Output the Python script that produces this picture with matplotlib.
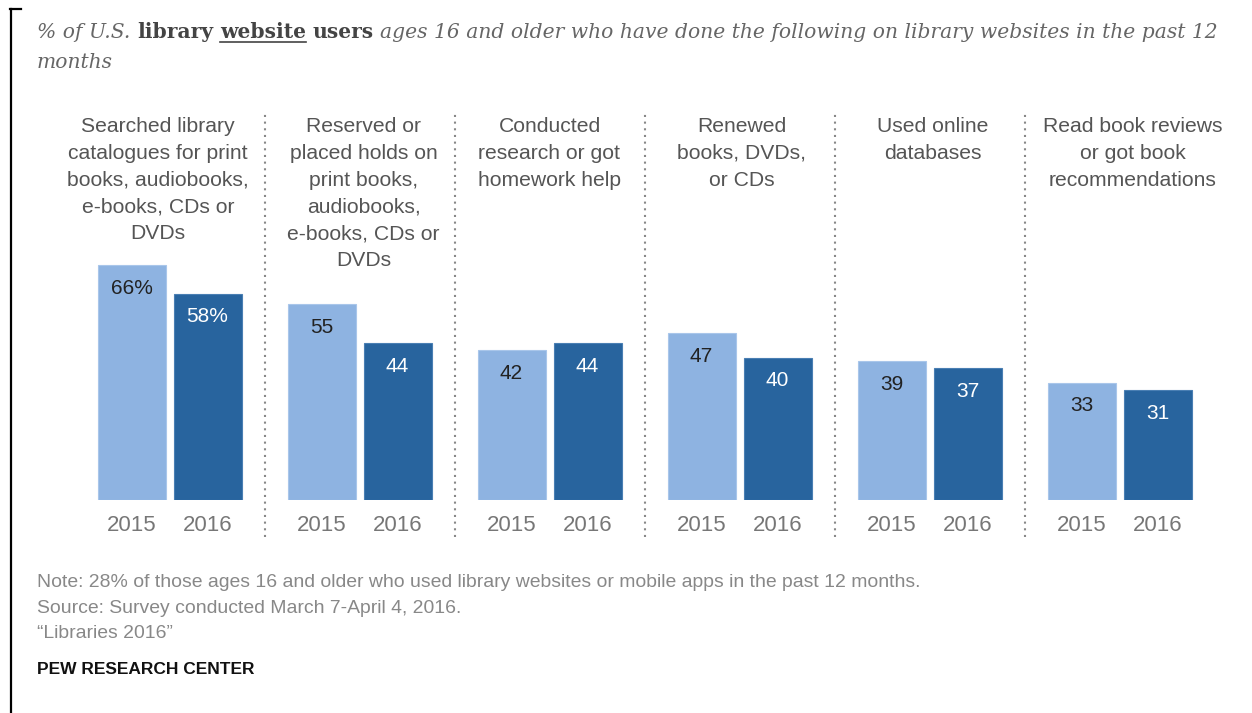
import numpy as np
import matplotlib
matplotlib.use("Agg")
import matplotlib.pyplot as plt
from matplotlib.transforms import blended_transform_factory
from matplotlib.lines import Line2D

categories = [
    "Searched library\ncatalogues for print\nbooks, audiobooks,\ne-books, CDs or\nDVDs",
    "Reserved or\nplaced holds on\nprint books,\naudiobooks,\ne-books, CDs or\nDVDs",
    "Conducted\nresearch or got\nhomework help",
    "Renewed\nbooks, DVDs,\nor CDs",
    "Used online\ndatabases",
    "Read book reviews\nor got book\nrecommendations",
]
years = ["2015", "2016"]
values_2015 = [66, 55, 42, 47, 39, 33]
values_2016 = [58, 44, 44, 40, 37, 31]
labels_2015 = ["66%", "55", "42", "47", "39", "33"]
labels_2016 = ["58%", "44", "44", "40", "37", "31"]

notes = [
    "Note: 28% of those ages 16 and older who used library websites or mobile apps in the past 12 months.",
    "Source: Survey conducted March 7-April 4, 2016.",
    "\u201cLibraries 2016\u201d",
]
credit = "PEW RESEARCH CENTER"

LIGHT = "#8eb3e1"
DARK = "#28649e"
SANS = "Liberation Sans"
SERIF = "DejaVu Serif"

W, H = 1252, 713
fig = plt.figure(figsize=(W / 100, H / 100), dpi=100)
fig.patch.set_facecolor("white")


def fx(px):
    return px / W


def fy(py):
    return 1 - py / H


px_per_unit = 3.56
group_px = 190.0
ax = fig.add_axes([fx(74.5), fy(500), 1140 / W, 400 / H])
ax.set_xlim(-0.5, 5.5)
ax.set_ylim(0, 400 / px_per_unit)
ax.axis("off")

x = np.arange(len(categories))
bw = 68 / group_px
off = 38 / group_px
ax.bar(x - off, values_2015, width=bw, color=LIGHT, edgecolor="#a9c6ea", linewidth=0.8)
ax.bar(x + off, values_2016, width=bw, color=DARK, edgecolor="#4a7fb3", linewidth=0.8)

for xi, v, lab in zip(x, values_2015, labels_2015):
    ax.annotate(lab, (xi - off, v), xytext=(0, -10), textcoords="offset points",
                ha="center", va="top", fontsize=15, color="#222222", family=SANS)
for xi, v, lab in zip(x, values_2016, labels_2016):
    ax.annotate(lab, (xi + off, v), xytext=(0, -10), textcoords="offset points",
                ha="center", va="top", fontsize=15, color="white", family=SANS)

# small horizontal nudges of the category headings (layout, in px)
label_nudge_px = [-11.5, 4, 0, 2, 3, 13]

trans = blended_transform_factory(ax.transData, fig.transFigure)
for xi, cat, nd in zip(x, categories, label_nudge_px):
    ax.text(xi + nd / group_px, fy(117), cat, transform=trans, ha="center", va="top",
            fontsize=15.2, color="#555555", family=SANS, linespacing=1.52)
    ax.text(xi - off, fy(531), years[0], transform=trans, ha="center", va="baseline",
            fontsize=16, color="#777777", family=SANS)
    ax.text(xi + off, fy(531), years[1], transform=trans, ha="center", va="baseline",
            fontsize=16, color="#777777", family=SANS)

# dotted dividers
for d in x[:-1] + 0.5:
    ax.plot([d, d], [(500 - 537) / px_per_unit, (500 - 112) / px_per_unit],
            linestyle=(0, (1, 2.2)), color="#888888", lw=1.5, clip_on=False)

# title with mixed styles
renderer = fig.canvas.get_renderer()
GREY = "#666666"
BOLDC = "#444444"


def width_of(s, **kw):
    t = fig.text(0, 0, s, **kw)
    w = t.get_window_extent(renderer).width
    t.remove()
    return w


def styles(ts):
    ital = dict(fontsize=ts, family=SERIF, style="italic", color=GREY)
    bold = dict(fontsize=ts, family=SERIF, weight="bold", color=BOLDC)
    return ital, bold


def build_pieces(ts):
    ital, bold = styles(ts)
    sw = width_of("a a", **ital) - width_of("aa", **ital)
    sb = width_of("a a", **bold) - width_of("aa", **bold)
    return [
        ("% of U.S.", ital, False, sw),
        ("library", bold, False, sb),
        ("website", bold, True, sb),
        ("users", bold, False, sw),
        ("ages 16 and older who have done the following on library websites in the past 12", ital, False, 0),
    ]


# fit title line to the reference width (37 -> 1220 px)
TS = 15.0
total = sum(width_of(s, **kw) + g for s, kw, _, g in build_pieces(TS))
TS = TS * (1183 / total)

cx = 37
base1 = 38
for s, kw, ul, gap in build_pieces(TS):
    t = fig.text(fx(cx), fy(base1), s, va="baseline", ha="left", **kw)
    bb = t.get_window_extent(renderer)
    if ul:
        fig.add_artist(Line2D([fx(bb.x0), fx(bb.x1)], [fy(base1 + 4), fy(base1 + 4)],
                              color=BOLDC, lw=1.2))
    cx = bb.x1 + gap
ital, _ = styles(TS)
fig.text(fx(37), fy(68), "months", va="baseline", ha="left", **ital)

# notes
for s, yb in zip(notes, [587, 613, 638]):
    fig.text(fx(37), fy(yb), s, va="baseline", ha="left", fontsize=13.95,
             color="#888888", family=SANS)
fig.text(fx(37), fy(674), credit, va="baseline", ha="left", fontsize=12.5,
         color="#111111", family=SANS, weight="bold")

# left border bracket
fig.add_artist(Line2D([fx(11), fx(11)], [fy(9), fy(713)], color="black", lw=1.6))
fig.add_artist(Line2D([fx(10), fx(21)], [fy(9), fy(9)], color="black", lw=1.6))

fig.savefig("out.png", dpi=100, facecolor="white")
